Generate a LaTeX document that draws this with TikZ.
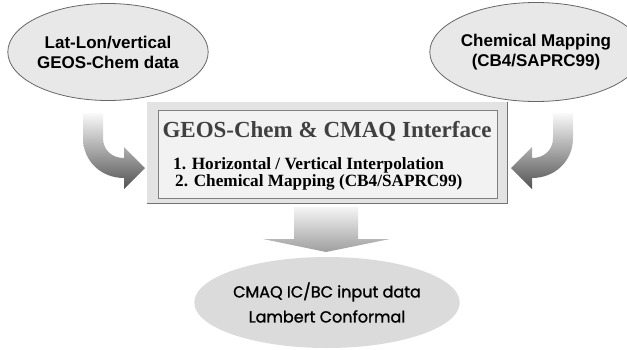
\documentclass[tikz,border=0pt]{standalone}
\usepackage{fontspec}
\setmainfont{Liberation Sans}
\newfontfamily\serifbold{Liberation Serif}
\newfontfamily\roundsans[FakeBold=1.2]{Poppins}
\usepackage{tikz}
\usetikzlibrary{shapes.geometric,positioning}

\begin{document}
\begin{tikzpicture}[
    x=1pt, y=-1pt,
    source/.style={ellipse,draw=black!60,fill=black!9,line width=0.8pt,inner sep=0pt,
      align=center,font=\fontsize{17}{20}\selectfont\bfseries},
    result/.style={ellipse,fill=black!14,inner sep=0pt,align=center,
      font=\roundsans\fontsize{16}{25}\selectfont},
    steptext/.style={anchor=west,inner sep=0pt,font=\serifbold\bfseries\fontsize{17.2}{19}\selectfont},
    bendarrow/.style={top color=black!2,bottom color=black!68,draw=none}
  ]
    \useasboundingbox (0,0) rectangle (627,349);

    % input ellipses
    \node[source,minimum width=197pt,minimum height=97pt] (latlon) at (108,52)
      {Lat-Lon/vertical\\GEOS-Chem data};
    \node[source,minimum width=168pt,minimum height=99pt] (chemmap) at (536,52)
      {Chemical Mapping\\(CB4/SAPRC99)};

    % interface box
    \node[fill=black!11,minimum width=360pt,minimum height=101pt,inner sep=0pt] (frame) at (327,152.5) {};
    \draw[black!55,line width=1pt] (frame.north east) -- (frame.south east) -- (frame.south west);
    \node[draw=black!50,fill=black!5,minimum width=339pt,minimum height=88pt,inner sep=0pt] (panel) at (327.5,154) {};
    \node[font=\serifbold\bfseries\fontsize{23}{26}\selectfont,text=black!75] (title) at (327,131)
      {GEOS-Chem \& CMAQ Interface};
    \node[steptext] (stepone) at (173,165) {1. Horizontal / Vertical Interpolation};
    \node[steptext] (steptwo) at (175,182) {2. Chemical Mapping (CB4/SAPRC99)};

    % output ellipse
    \node[result,minimum width=258pt,minimum height=91pt] (cmaq) at (327,302.5)
      {CMAQ IC/BC input data\\Lambert Conformal};

    % block arrows
    \path[bendarrow] (83,113) -- (103,113) -- (103,138)
      .. controls (103,150) and (112,158) .. (124,158) -- (124,147) -- (145,168)
      -- (124,189) -- (124,178) .. controls (101,178) and (83,161) .. (83,138) -- cycle;
    \path[bendarrow] (573,113) -- (553,113) -- (553,138)
      .. controls (553,150) and (544,158) .. (532,158) -- (532,147) -- (511,168)
      -- (532,189) -- (532,178) .. controls (555,178) and (573,161) .. (573,138) -- cycle;
    \path[top color=black!4,bottom color=black!38] (294,207) -- (358,207) -- (358,239)
      -- (390,239) -- (326,252) -- (263,239) -- (294,239) -- cycle;
\end{tikzpicture}
\end{document}
